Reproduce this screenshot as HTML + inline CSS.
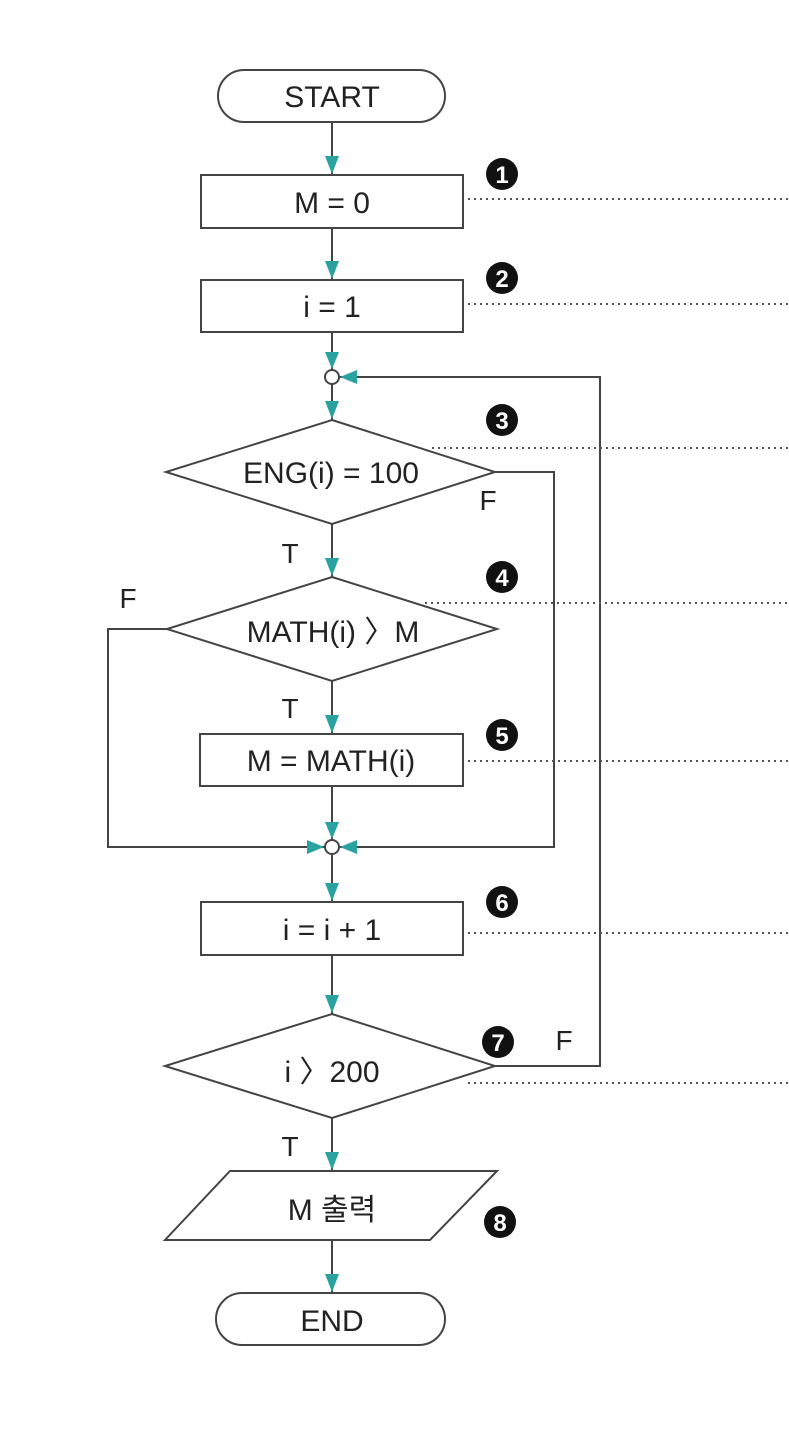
<!DOCTYPE html>
<html><head><meta charset="utf-8"><style>html,body{margin:0;padding:0;background:#fff}</style></head>
<body>
<svg width="789" height="1440" viewBox="0 0 789 1440" xmlns="http://www.w3.org/2000/svg" font-family="Liberation Sans, Noto Sans CJK KR, sans-serif">
<defs>
<marker id="a" markerWidth="10" markerHeight="10" refX="5" refY="9" orient="auto" markerUnits="userSpaceOnUse" viewBox="0 0 10 10">
</marker>
</defs>
<g stroke="#444" stroke-width="2" fill="none">
<!-- shapes -->
<rect x="218" y="70" width="227" height="52" rx="26" fill="#fff"/>
<rect x="201" y="175" width="262" height="53" fill="#fff"/>
<rect x="201" y="280" width="262" height="52" fill="#fff"/>
<circle cx="332" cy="377" r="7" fill="#fff"/>
<polygon points="332,420 495,472 332,524 166,472" fill="#fff"/>
<polygon points="332,577 497,629 332,681 167,629" fill="#fff"/>
<rect x="200" y="734" width="263" height="52" fill="#fff"/>
<circle cx="332" cy="847" r="7" fill="#fff"/>
<rect x="201" y="902" width="262" height="53" fill="#fff"/>
<polygon points="332,1014 495,1066 332,1118 165,1066" fill="#fff"/>
<polygon points="230,1171 497,1171 430,1240 165,1240" fill="#fff"/>
<rect x="216" y="1293" width="229" height="52" rx="26" fill="#fff"/>
<!-- connectors -->
<line x1="332" y1="122" x2="332" y2="175"/>
<line x1="332" y1="228" x2="332" y2="280"/>
<line x1="332" y1="332" x2="332" y2="370"/>
<line x1="332" y1="384" x2="332" y2="420"/>
<line x1="332" y1="524" x2="332" y2="577"/>
<line x1="332" y1="681" x2="332" y2="734"/>
<line x1="332" y1="786" x2="332" y2="840"/>
<line x1="332" y1="854" x2="332" y2="902"/>
<line x1="332" y1="955" x2="332" y2="1014"/>
<line x1="332" y1="1118" x2="332" y2="1171"/>
<line x1="332" y1="1240" x2="332" y2="1293"/>
<polyline points="495,472 554,472 554,847 339,847"/>
<polyline points="167,629 108,629 108,847 325,847"/>
<polyline points="495,1066 600,1066 600,377 339,377"/>
</g>
<g fill="#2aa3a0">
<polygon points="325,156 339,156 332,174"/>
<polygon points="325,261 339,261 332,279"/>
<polygon points="325,352 339,352 332,369"/>
<polygon points="325,401 339,401 332,419"/>
<polygon points="325,558 339,558 332,576"/>
<polygon points="325,715 339,715 332,733"/>
<polygon points="325,822 339,822 332,839"/>
<polygon points="325,883 339,883 332,901"/>
<polygon points="325,995 339,995 332,1013"/>
<polygon points="325,1152 339,1152 332,1170"/>
<polygon points="325,1274 339,1274 332,1292"/>
<polygon points="357,370 357,384 340,377"/>
<polygon points="307,840 307,854 324,847"/>
<polygon points="357,840 357,854 340,847"/>
</g>
<g stroke="#555" stroke-width="2" stroke-dasharray="2,4" fill="none">
<line x1="468" y1="199" x2="789" y2="199"/>
<line x1="468" y1="304" x2="789" y2="304"/>
<line x1="432" y1="448" x2="789" y2="448"/>
<line x1="425" y1="603" x2="789" y2="603"/>
<line x1="468" y1="761" x2="789" y2="761"/>
<line x1="468" y1="933" x2="789" y2="933"/>
<line x1="468" y1="1083" x2="789" y2="1083"/>
</g>
<g fill="#222" font-size="30" text-anchor="middle">
<text x="332" y="107">START</text>
<text x="332" y="213">M = 0</text>
<text x="332" y="317">i = 1</text>
<text x="331" y="483">ENG(i) = 100</text>
<text x="333" y="642">MATH(i) 〉M</text>
<text x="331" y="771">M = MATH(i)</text>
<text x="332" y="940">i = i + 1</text>
<text x="332" y="1082">i 〉200</text>
<text x="332" y="1220">M 출력</text>
<text x="332" y="1331">END</text>
<text x="488" y="510" font-size="28">F</text>
<text x="290" y="563" font-size="28">T</text>
<text x="128" y="608" font-size="28">F</text>
<text x="290" y="718" font-size="28">T</text>
<text x="564" y="1050" font-size="28">F</text>
<text x="290" y="1156" font-size="28">T</text>
</g>
<g>
<circle cx="502" cy="174" r="16" fill="#111"/>
<circle cx="502" cy="278" r="16" fill="#111"/>
<circle cx="502" cy="420" r="16" fill="#111"/>
<circle cx="502" cy="577" r="16" fill="#111"/>
<circle cx="502" cy="735" r="16" fill="#111"/>
<circle cx="502" cy="902" r="16" fill="#111"/>
<circle cx="498" cy="1042" r="16" fill="#111"/>
<circle cx="500" cy="1222" r="16" fill="#111"/>
</g>
<g fill="#fff" font-size="24" font-weight="bold" text-anchor="middle">
<text x="502" y="183">1</text>
<text x="502" y="287">2</text>
<text x="502" y="429">3</text>
<text x="502" y="586">4</text>
<text x="502" y="744">5</text>
<text x="502" y="911">6</text>
<text x="498" y="1051">7</text>
<text x="500" y="1231">8</text>
</g>
</svg>
</body></html>
